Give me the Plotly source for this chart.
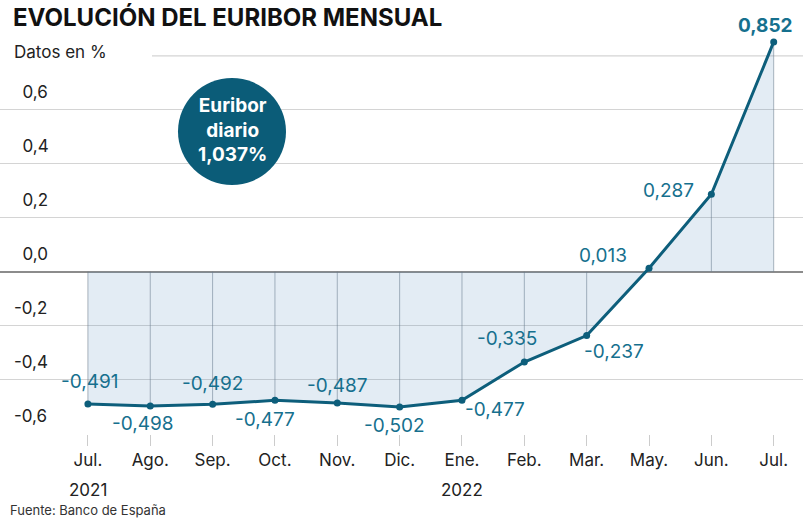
import plotly.graph_objects as go

# ---- data ----
months = ["Jul.", "Ago.", "Sep.", "Oct.", "Nov.", "Dic.", "Ene.", "Feb.", "Mar.", "May.", "Jun.", "Jul."]
years = ["2021", "", "", "", "", "", "2022", "", "", "", "", ""]
euribor = [-0.491, -0.498, -0.492, -0.477, -0.487, -0.502, -0.477, -0.335, -0.237, 0.013, 0.287, 0.852]
y_ticks = [-0.6, -0.4, -0.2, 0.0, 0.2, 0.4, 0.6]
daily_label = "Euribor<br>diario<br>1,037%"

# ---- layout constants ----
W, H = 803, 523
M_T, M_B, M_L, M_R = 29, 89, 0, 0
FONT = "Inter"
LINE_C = "#0d5e7b"
LABEL_C = "#16708e"
TXT_C = "#222222"

# label offsets in pixels (dx right, dy down)
label_off = [(2, -23), (-7, 18), (0, -21), (-10, 19), (0, -17), (-5, 18),
             (33, 9), (-17, -24), (27, 16), (-46, -13), (-43, -4), (-8, -16)]

xs = list(range(len(euribor)))


def fmt(v, d):
    return f"{v:.{d}f}".replace(".", ",")


def ytick_text(t):
    s = fmt(t, 1)
    return s if s.startswith("-") else "\u2002" + s


def px_x(p):
    return (p - M_L) / (W - M_L - M_R)


def px_y(p):
    return 1 - (p - M_T) / (H - M_T - M_B)


fig = go.Figure()

# vertical lines inside the filled area
vx, vy = [], []
for x, v in zip(xs, euribor):
    vx += [x, x, None]
    vy += [0, v, None]
fig.add_trace(go.Scatter(x=vx, y=vy, mode="lines",
                         line=dict(color="rgba(110,122,135,0.55)", width=1),
                         hoverinfo="skip", showlegend=False))

# main line with fill
fig.add_trace(go.Scatter(x=xs, y=euribor, mode="lines+markers",
                         fill="tozeroy", fillcolor="rgba(70,130,180,0.15)",
                         line=dict(color=LINE_C, width=3),
                         marker=dict(color=LINE_C, size=7),
                         cliponaxis=False, showlegend=False))

# data labels
for i, (x, v) in enumerate(zip(xs, euribor)):
    dx, dy = label_off[i]
    last = i == len(euribor) - 1
    txt = fmt(v, 3)
    if last:
        txt = "<b>" + txt + "</b>"
    fig.add_annotation(x=x, y=v, text=txt, showarrow=False,
                       xshift=dx, yshift=-dy, xanchor="center", yanchor="middle",
                       font=dict(family=FONT, size=19, color=LABEL_C))

# year labels under the month ticks
for x, yr in zip(xs, years):
    if yr:
        fig.add_annotation(x=x, xref="x", yref="paper", y=px_y(490), text=yr,
                           showarrow=False, xanchor="center", yanchor="middle",
                           font=dict(family=FONT, size=17, color=TXT_C))

# top gridline (0.8) that starts after the subtitle
fig.add_shape(type="line", xref="paper", yref="y", x0=px_x(152), x1=1, y0=0.8, y1=0.8,
              line=dict(color="#d4d4d4", width=1.2), layer="below")

# circle
fig.add_shape(type="circle", xref="paper", yref="paper",
              x0=px_x(178), x1=px_x(286), y0=px_y(185), y1=px_y(78),
              fillcolor="#0b5c78", line=dict(width=0), layer="above")
fig.add_annotation(xref="paper", yref="paper", x=px_x(232), y=px_y(130),
                   xanchor="center", yanchor="middle",
                   text="<b>" + daily_label + "</b>", showarrow=False,
                   font=dict(family=FONT, size=19, color="white"),
                   align="center")

# title, subtitle, source
fig.add_annotation(xref="paper", yref="paper", x=px_x(11), y=px_y(18), xanchor="left", yanchor="middle",
                   text="<b>EVOLUCIÓN DEL EURIBOR MENSUAL</b>", showarrow=False,
                   font=dict(family=FONT, size=24, color="#111111"))
fig.add_annotation(xref="paper", yref="paper", x=px_x(12), y=px_y(52), xanchor="left", yanchor="middle",
                   text="Datos en %", showarrow=False,
                   font=dict(family=FONT, size=17, color=TXT_C))
fig.add_annotation(xref="paper", yref="paper", x=px_x(8), y=px_y(510), xanchor="left", yanchor="middle",
                   text="Fuente: Banco de España", showarrow=False,
                   font=dict(family=FONT, size=13, color="#333333"))

fig.update_layout(
    width=W, height=H,
    margin=dict(l=M_L, r=M_R, t=M_T, b=M_B, pad=0),
    paper_bgcolor="white", plot_bgcolor="white",
    font=dict(family=FONT, color=TXT_C),
    xaxis=dict(range=[-1.41, 11.47], tickvals=xs, ticktext=months,
               showgrid=False, zeroline=False, showline=False,
               ticks="outside", ticklen=11, tickcolor="#cccccc", tickwidth=1,
               tickfont=dict(family=FONT, size=17, color=TXT_C)),
    yaxis=dict(range=[-0.602, 0.9], tickvals=y_ticks,
               ticktext=[ytick_text(t) for t in y_ticks],
               ticklabelposition="inside top", ticklabelstandoff=11,
               ticklabelshift=-6,
               showgrid=True, gridcolor="#d4d4d4", gridwidth=1.2,
               zeroline=True, zerolinecolor="#8c8c8c", zerolinewidth=2,
               showline=False, ticks="",
               tickfont=dict(family=FONT, size=17, color=TXT_C)),
)

fig.write_html("out.html", post_script="document.body.style.margin='0';",
               config={"displayModeBar": False})
